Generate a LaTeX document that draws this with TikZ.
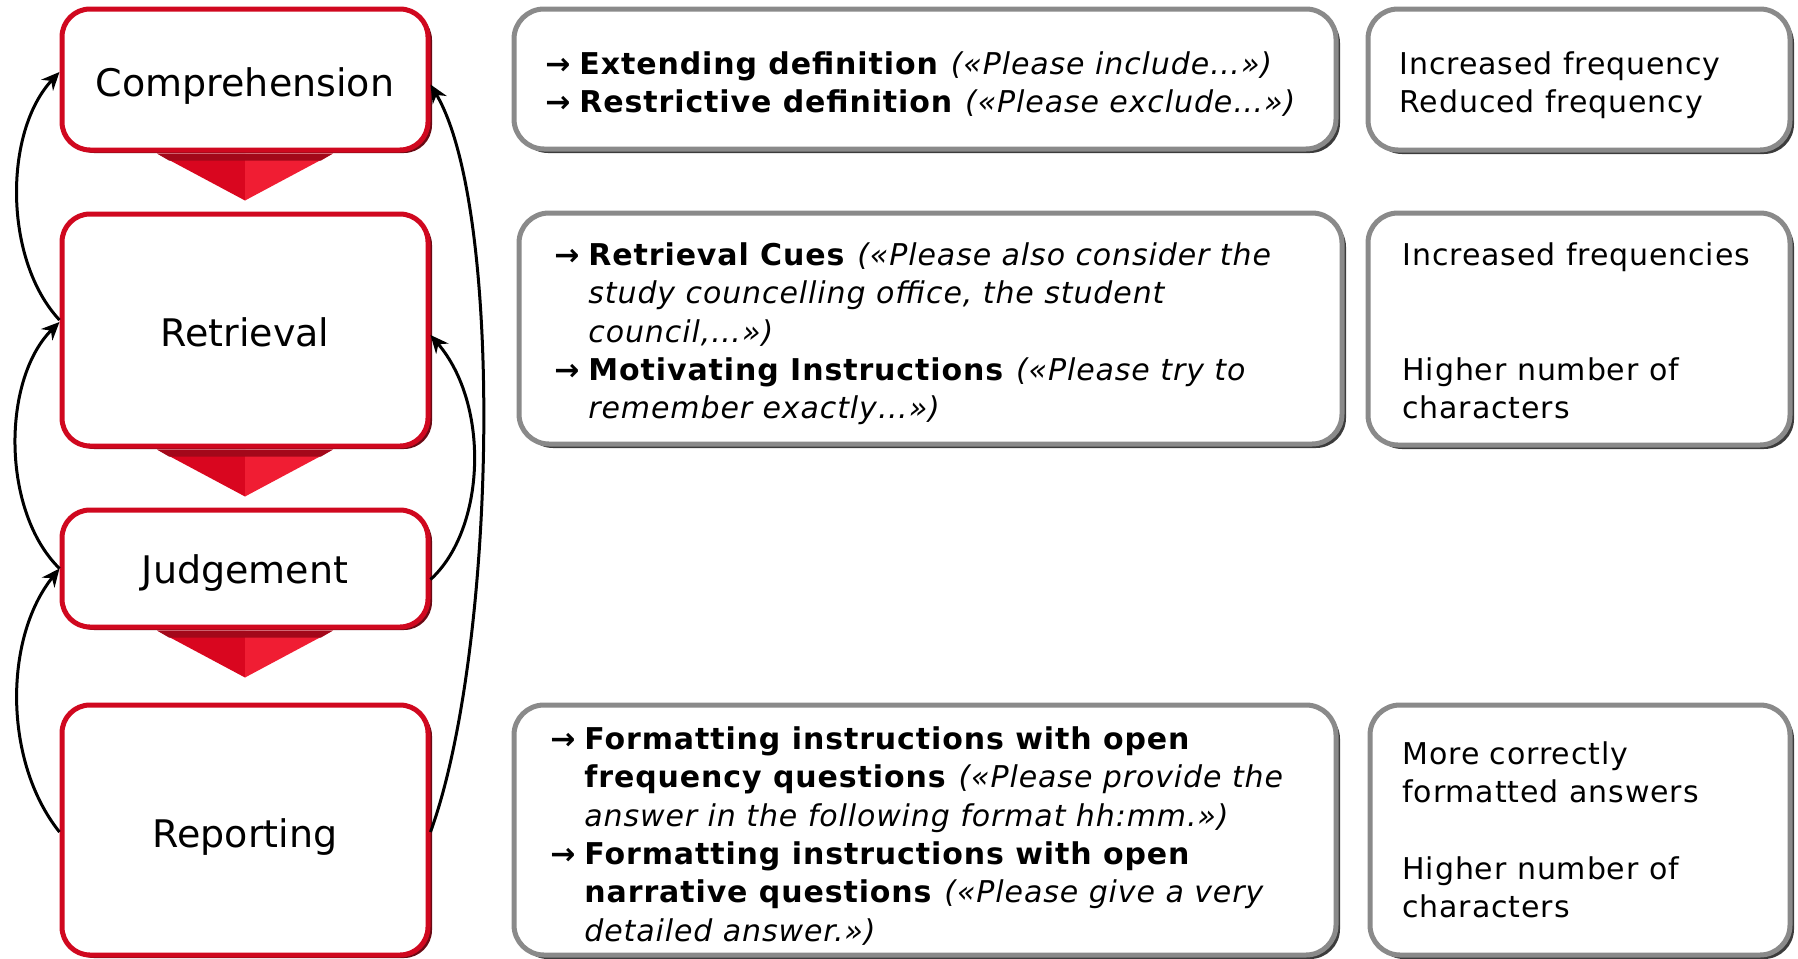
\documentclass[tikz,border=0pt]{standalone}
\usepackage{fontspec}
\setmainfont{DejaVu Sans}
\newfontfamily\bodyfont[LetterSpace=3]{DejaVu Sans}
\usetikzlibrary{shadows,calc,arrows.meta}
\definecolor{stagered}{HTML}{D0081F}
\definecolor{stagedark}{HTML}{6A0A14}
\definecolor{chevtop}{HTML}{A3081A}
\definecolor{chevleft}{HTML}{D9061F}
\definecolor{chevright}{HTML}{F01D33}
\definecolor{boxgray}{HTML}{8A8A8A}
\definecolor{boxdark}{HTML}{3C3C3C}
\newcommand\bulletarrow{\makebox[17pt][l]{\textbf{→}}}
\newcommand\stagechevron[1]{%
  \fill[chevleft] ($(#1.south)+(-88,1)$) -- ($(#1.south)+(0,1)$) -- ($(#1.south)+(0,48)$) -- cycle;
  \fill[chevright] ($(#1.south)+(0,1)$) -- ($(#1.south)+(88,1)$) -- ($(#1.south)+(0,48)$) -- cycle;
  \fill[chevtop] ($(#1.south)+(-88,1)$) -- ($(#1.south)+(88,1)$) -- ($(#1.south)+(76,8)$) -- ($(#1.south)+(-76,8)$) -- cycle;
}
\tikzset{
  stagebox/.style={draw=stagered, line width=2.5pt, fill=white, rounded corners=14pt,
    drop shadow={shadow xshift=2pt, shadow yshift=-1.5pt, fill=stagedark, opacity=1},
    minimum width=183pt, inner sep=0pt},
  stagelabel/.style={inner sep=0pt, font=\fontsize{19}{23}\selectfont},
  infobox/.style={draw=boxgray, line width=2.5pt, fill=white, rounded corners=15pt,
    drop shadow={shadow xshift=2pt, shadow yshift=-2pt, fill=boxdark, opacity=1}, inner sep=0pt},
  bodytext/.style={anchor=north west, inner sep=0pt, align=left, font=\bodyfont\fontsize{15}{19.2}\selectfont},
  fbarrow/.style={-{Stealth[length=9pt,width=8pt]}, line width=1.5pt, black},
}
\begin{document}
\begin{tikzpicture}[x=0.5pt,y=-0.5pt]
\useasboundingbox (0,0) rectangle (1798,958);

% stages
\node[stagebox, minimum height=70.5pt] (comp) at (245,79.5) {};
\node[stagebox, minimum height=116pt] (retr) at (245,330) {};
\node[stagebox, minimum height=58.5pt] (judg) at (245,568.5) {};
\node[stagebox, minimum height=125pt] (repo) at (245,830) {};
\node[stagelabel] (compl) at ([yshift=-3.5pt]comp.center) {Comprehension};
\node[stagelabel] (retrl) at ([yshift=-1pt]retr.center) {Retrieval};
\node[stagelabel] (judgl) at ([yshift=-2.5pt]judg.center) {Judgement};
\node[stagelabel] (repol) at ([yshift=-3.5pt]repo.center) {Reporting};
\stagechevron{comp}
\stagechevron{retr}
\stagechevron{judg}

% feedback arrows left
\draw[fbarrow] ([yshift=5pt]retr.west) .. controls +(-56,-60) and +(-56,60) .. ([yshift=3.75pt]comp.west);
\draw[fbarrow] (judg.west) .. controls +(-58,-57) and +(-58,58) .. ([yshift=4pt]retr.west);
\draw[fbarrow] ([yshift=-1pt]repo.west) .. controls +(-56,-70) and +(-56,70) .. (judg.west);
% feedback arrows right
\draw[fbarrow] ([yshift=-1pt]repo.east) .. controls +(66,-182) and +(74,125) .. ([yshift=-2.5pt]comp.east);
\draw[fbarrow] ([yshift=-5.5pt]judg.east) .. controls +(55,-50) and +(60,70) .. ([yshift=-2.5pt]retr.east);

% info boxes
\node[infobox, minimum width=411pt, minimum height=70pt] (defbox) at (925,79) {};
\node[infobox, minimum width=411.5pt, minimum height=115.5pt] (cuebox) at (930.5,328.5) {};
\node[infobox, minimum width=411pt, minimum height=125pt] (fmtbox) at (925,830) {};
\node[infobox, minimum width=211pt, minimum height=70.5pt] (res1) at (1579,79.5) {};
\node[infobox, minimum width=211pt, minimum height=116pt] (res2) at (1579,329) {};
\node[infobox, minimum width=210pt, minimum height=125pt] (res3) at (1580,830) {};

% texts
\node[bodytext] (deftext) at (545,47) {%
\strut\bulletarrow\textbf{Extending definition}\hspace{0.4em}\textit{(«Please include…»)}\\
\strut\bulletarrow\textbf{Restrictive definition}\hspace{0.4em}\textit{(«Please exclude…»)}};

\node[bodytext] (cuetext) at (554,238) {%
\strut\bulletarrow\textbf{Retrieval Cues}\hspace{0.4em}\textit{(«Please also consider the}\\
\strut\hspace*{17pt}\textit{study councelling office, the student}\\
\strut\hspace*{17pt}\textit{council,…»)}\\
\strut\bulletarrow\textbf{Motivating Instructions}\hspace{0.4em}\textit{(«Please try to}\\
\strut\hspace*{17pt}\textit{remember exactly…»)}};

\node[bodytext] (fmttext) at (550,722) {%
\strut\bulletarrow\textbf{Formatting instructions with open}\\
\strut\hspace*{17pt}\textbf{frequency questions}\hspace{0.4em}\textit{(«Please provide the}\\
\strut\hspace*{17pt}\textit{answer in the following format hh:mm.»)}\\
\strut\bulletarrow\textbf{Formatting instructions with open}\\
\strut\hspace*{17pt}\textbf{narrative questions}\hspace{0.4em}\textit{(«Please give a very}\\
\strut\hspace*{17pt}\textit{detailed answer.»)}};

\node[bodytext] (res1text) at (1399,47) {\strut Increased frequency\\ \strut Reduced frequency};
\node[bodytext] (res2text) at (1402,238) {\strut Increased frequencies\\ \strut\\ \strut\\ \strut Higher number of\\ \strut characters};
\node[bodytext] (res3text) at (1402,737) {\strut More correctly\\ \strut formatted answers\\ \strut\\ \strut Higher number of\\ \strut characters};
\end{tikzpicture}
\end{document}
